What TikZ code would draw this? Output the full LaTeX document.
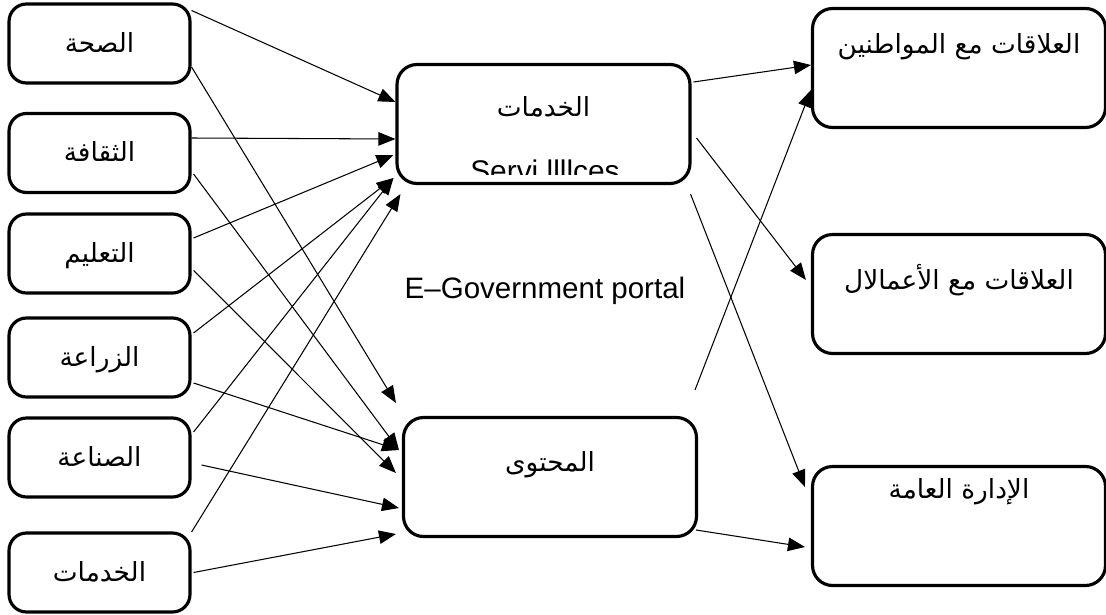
\documentclass[tikz,border=0pt]{standalone}
\usepackage{fontspec}
\setmainfont{Liberation Sans}
\newfontfamily\arabicfont[Script=Arabic]{DejaVu Sans}
\TeXXeTstate=1
\newcommand{\arb}[1]{{\arabicfont\beginR #1\endR}}
\usetikzlibrary{arrows.meta,calc}

\begin{document}
\begin{tikzpicture}[x=0.02cm,y=-0.02cm,->,>={Triangle[length=0.34cm,width=0.27cm]},line width=0.6pt,font=\fontsize{15}{18}\selectfont]
  \tikzstyle{box}=[draw,line width=1.8pt,rounded corners=0.35cm,minimum width=3.62cm,minimum height=1.58cm,text height=0.4cm,text depth=0.05cm]
  \tikzstyle{bigbox}=[box,rounded corners=0.4cm,minimum width=5.86cm,minimum height=2.38cm]

  \useasboundingbox (0,0) rectangle (1106,615);

  \node[box] (health) at (99.5,43.5) {\arb{الصحة}};
  \node[box] (culture) at (99.5,153) {\arb{الثقافة}};
  \node[box] (education) at (99.5,253.5) {\arb{التعليم}};
  \node[box] (agriculture) at (99.5,357.5) {\arb{الزراعة}};
  \node[box] (industry) at (99.5,457.5) {\arb{الصناعة}};
  \node[box] (publicserv) at (99.5,572.5) {\arb{الخدمات}};

  \node[bigbox,text depth=0.71cm] (services) at (543.5,124) {\arb{الخدمات}};
  \begin{scope}
    \clip (400,150) rectangle (688,175);
    \node[anchor=base,font=\fontsize{17}{20}\selectfont] (servlatin) at (545,181) {Servi llllces};
  \end{scope}
  \node[bigbox,text depth=0.63cm] (content) at (550,477) {\arb{المحتوى}};
  \node[font=\fontsize{16.8}{20}\selectfont] (portal) at (545,291) {E--Government portal};

  \node[bigbox,text depth=0.99cm] (citizens) at (959,68) {\arb{العلاقات مع المواطنين}};
  \node[bigbox,text depth=0.59cm] (business) at (959,294) {\arb{العلاقات مع الأعمالال}};
  \node[bigbox,text depth=1.51cm] (admin) at (959,526) {\arb{الإدارة العامة}};

  \coordinate (loose) at (695,390);

  \draw ($(health.east)+(0,-33)$) -- ($(services.west)+(0,-22)$);
  \draw ($(health.east)+(0,23.5)$) -- ($(content.west)+(-6,-74)$);
  \draw ($(culture.east)+(0,-15)$) -- ($(services.west)+(0,15)$);
  \draw ($(culture.east)+(2,21)$) -- ($(content.west)+(-3,-27)$);
  \draw ($(education.east)+(2,-15.5)$) -- ($(services.west)+(-2,31)$);
  \draw ($(education.east)+(2,17)$) -- ($(content.west)+(-6,-4)$);
  \draw ($(agriculture.east)+(2,-24.5)$) -- ($(services.west)+(-2,54)$);
  \draw ($(agriculture.east)+(2,25.5)$) -- ($(content.west)+(-3,-27)$);
  \draw ($(industry.east)+(2,-25.5)$) -- ($(services.west)+(-2,54)$);
  \draw ($(industry.east)+(10,7.5)$) -- ($(content.west)+(-3,31)$);
  \draw ($(publicserv.east)+(0,-40.5)$) -- ($(services.south west)+(5,9)$);
  \draw ($(publicserv.east)+(2,0)$) -- ($(content.west)+(-6,57)$);

  \draw ($(services.east)+(2,-42)$) -- ($(citizens.west)+(0,-3)$);
  \draw ($(services.east)+(5,14)$) -- ($(business.west)+(-5,-14)$);
  \draw ($(services.south east)+(-1,9)$) -- ($(admin.west)+(-6,-39)$);
  \draw (loose) -- ($(citizens.west)+(0,22)$);
  \draw ($(content.east)+(-2,53)$) -- ($(admin.west)+(-6,21)$);
\end{tikzpicture}
\end{document}
